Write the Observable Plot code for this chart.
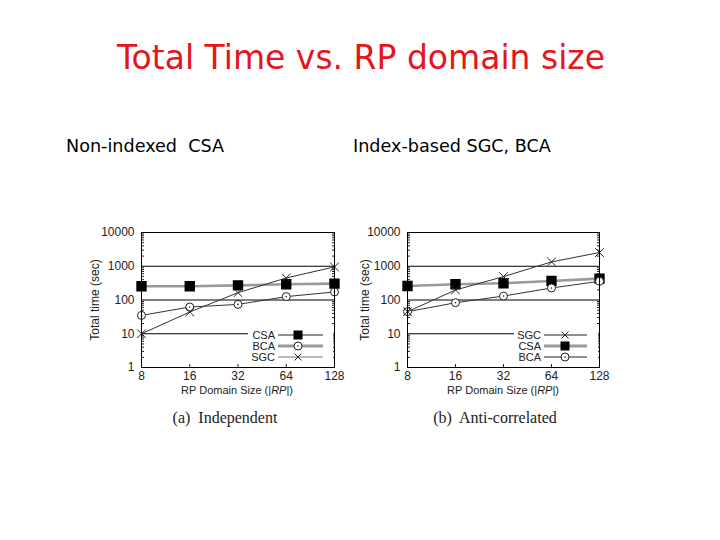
<!DOCTYPE html>
<html><head><meta charset="utf-8">
<script src="https://cdn.jsdelivr.net/npm/d3@7"></script>
<script src="https://cdn.jsdelivr.net/npm/@observablehq/plot@0.6"></script>
<style>
body{margin:0;background:#fff;}
#page{position:relative;width:720px;height:540px;overflow:hidden;background:#fff;}
.abs{position:absolute;white-space:nowrap;}
.sub{font-family:"DejaVu Sans";font-size:17.6px;color:#000;top:136px;}
.cap{font-family:"Liberation Serif";font-size:16px;color:#222;top:409px;width:200px;text-align:center;}
.xl{font-family:"Liberation Sans";font-size:11px;line-height:11px;color:#222;top:385px;width:200px;text-align:center;}
</style></head><body><div id="page">
<div class="abs" style="left:0;width:722px;top:38px;text-align:center;color:#e5151b;font-family:'DejaVu Sans';font-size:33px;">Total Time vs. RP domain size</div>
<div class="abs sub" style="left:66px;">Non-indexed&nbsp; CSA</div>
<div class="abs sub" style="left:353px;">Index-based SGC, BCA</div>
<div class="abs" id="chartA" style="left:80px;top:215px;"></div>
<div class="abs" id="chartB" style="left:350px;top:215px;"></div>
<div class="abs xl" style="left:137px;">RP Domain Size (|<i>RP</i>|)</div>
<div class="abs xl" style="left:403px;">RP Domain Size (|<i>RP</i>|)</div>
<div class="abs cap" style="left:125px;">(a)&nbsp; Independent</div>
<div class="abs cap" style="left:395px;">(b)&nbsp; Anti-correlated</div>
</div>
<script>
const sizes = [8, 16, 32, 64, 128];
const yTicks = [1, 10, 100, 1000, 10000];
const minorMultipliers = [2, 3, 4, 5, 6, 7, 8, 9];
// (a) Independent
const indepCSA = [255, 255, 272, 292, 305];
const indepBCA = [35, 62, 74, 126, 173];
const indepSGC = [10, 44, 165, 450, 955];
// (b) Anti-correlated
const antiSGC = [45, 198, 493, 1345, 2547];
const antiCSA = [260, 292, 313, 367, 430];
const antiBCA = [45, 83, 131, 227, 358];

const minorTicks = yTicks.slice(0, -1).flatMap(d => minorMultipliers.map(m => d * m));
const rows = arr => sizes.map((s, i) => ({size: s, time: arr[i]}));

const styles = {
  CSA: {lineStroke: "#9a9a9a", lineWidth: 2.6, symbol: "square"},
  BCA: {lineStroke: "#333", lineWidth: 1, symbol: "circle"},
  SGC: {lineStroke: "#333", lineWidth: 1, symbol: "times"}
};

function seriesMarks(name, arr) {
  const data = rows(arr);
  const st = styles[name];
  const marks = [Plot.line(data, {x: "size", y: "time", stroke: st.lineStroke, strokeWidth: st.lineWidth})];
  if (st.symbol === "square") {
    marks.push(Plot.dot(data, {x: "size", y: "time", symbol: "square", r: 5, fill: "black", stroke: "black"}));
  } else if (st.symbol === "circle") {
    marks.push(Plot.dot(data, {x: "size", y: "time", symbol: "circle", r: 4, fill: "white", stroke: "#222", strokeWidth: 1}));
    marks.push(Plot.dot(data, {x: "size", y: "time", r: 0.8, fill: "#222"}));
  } else {
    marks.push(Plot.dot(data, {x: "size", y: "time", symbol: "times", r: 4, stroke: "#222", strokeWidth: 1}));
  }
  return marks;
}

function makeChart(series, legend, mLeft, mRight) {
  const chart = Plot.plot({
    width: 270, height: 185,
    marginLeft: mLeft, marginRight: mRight, marginTop: 17, marginBottom: 33,
    style: {fontFamily: "Liberation Sans", fontSize: "12px", color: "#222", background: "transparent"},
    x: {type: "log", base: 2, domain: [8, 128]},
    y: {type: "log", domain: [1, 10000]},
    marks: [
      Plot.ruleY(yTicks.slice(1), {stroke: "black", strokeWidth: 1}),
      Plot.axisY({ticks: minorTicks, anchor: "left", tickSize: -3, tickFormat: () => "", label: null}),
      Plot.axisY({ticks: minorTicks, anchor: "right", tickSize: -3, tickFormat: () => "", label: null}),
      Plot.axisY({ticks: yTicks, anchor: "left", tickSize: 0, tickPadding: 7, tickFormat: d => String(d),
                  label: "Total time (sec)", labelAnchor: "center", labelOffset: mLeft - 10, labelArrow: "none", fontSize: 12}),
      Plot.axisX({ticks: sizes.slice(1, -1), anchor: "bottom", tickSize: -3, tickFormat: () => "", label: null}),
      Plot.axisX({ticks: sizes, anchor: "bottom", tickSize: 0, tickPadding: 4, tickFormat: d => String(d), label: null}),
      ...series.flatMap(([name, arr]) => seriesMarks(name, arr)),
      Plot.frame({stroke: "black", strokeWidth: 1})
    ]
  });
  // legend box (pixel layout)
  const svg = d3.select(chart);
  const g = svg.append("g").attr("font-family", "Liberation Sans").attr("font-size", 11);
  g.append("rect").attr("x", legend.boxX).attr("y", 112).attr("width", legend.boxW).attr("height", 36).attr("fill", "white");
  legend.items.forEach((it, i) => {
    const y = 120 + i * 11;
    const st = styles[it.name];
    g.append("text").attr("x", legend.textX).attr("y", y).attr("dy", "0.35em").attr("text-anchor", "end").attr("fill", "#222").text(it.name);
    g.append("line").attr("x1", legend.lineX1).attr("x2", legend.lineX2).attr("y1", y).attr("y2", y)
      .attr("stroke", it.stroke).attr("stroke-width", it.width);
    const mx = legend.markX;
    if (st.symbol === "square") {
      g.append("rect").attr("x", mx - 4.5).attr("y", y - 4.5).attr("width", 9).attr("height", 9).attr("fill", "black");
    } else if (st.symbol === "circle") {
      g.append("circle").attr("cx", mx).attr("cy", y).attr("r", 4).attr("fill", "white").attr("stroke", "#222");
      g.append("circle").attr("cx", mx).attr("cy", y).attr("r", 0.8).attr("fill", "#222");
    } else {
      g.append("path").attr("d", `M${mx-3.5},${y-3.5}L${mx+3.5},${y+3.5}M${mx-3.5},${y+3.5}L${mx+3.5},${y-3.5}`).attr("stroke", "#222");
    }
  });
  return chart;
}

document.getElementById("chartA").append(makeChart(
  [["CSA", indepCSA], ["BCA", indepBCA], ["SGC", indepSGC]],
  {boxX: 168, boxW: 85, textX: 195, lineX1: 198, lineX2: 243, markX: 218,
   items: [{name: "CSA", stroke: "#222", width: 1}, {name: "BCA", stroke: "#9a9a9a", width: 3}, {name: "SGC", stroke: "#777", width: 1}]},
  61, 16));
document.getElementById("chartB").append(makeChart(
  [["CSA", antiCSA], ["BCA", antiBCA], ["SGC", antiSGC]],
  {boxX: 164, boxW: 84, textX: 191, lineX1: 194, lineX2: 237, markX: 215,
   items: [{name: "SGC", stroke: "#222", width: 1}, {name: "CSA", stroke: "#9a9a9a", width: 3}, {name: "BCA", stroke: "#222", width: 1}]},
  57, 21));
</script>
</body></html>
